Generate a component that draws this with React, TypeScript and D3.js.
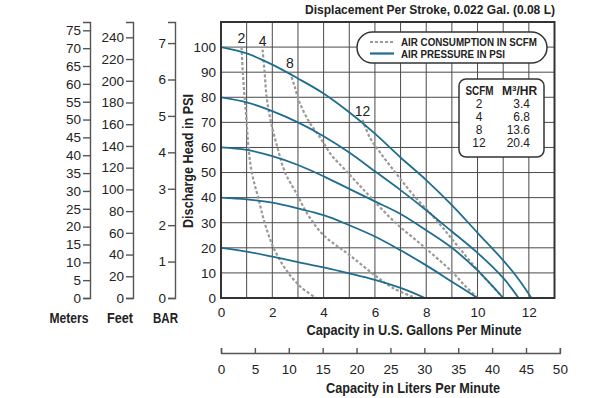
import * as d3 from "d3";
import { useEffect, useRef } from "react";

const W = 600;
const H = 398;
const plot = { left: 221, right: 554.5, top: 22, bottom: 298 };
const FONT = "'Liberation Sans', Arial, sans-serif";
const BLUE = "#1f6d8f";
const DASH_GRAY = "#9a9a9a";
const GRID = "#4a4a4a";

// unit conversions for the secondary axes
const METERS_PER_PSI = 0.703;
const FEET_PER_PSI = 2.31;
const BAR_PER_PSI = 0.0689;
const LITERS_PER_GAL = 3.785;

// tick labels
const gallonTicks = [0, 2, 4, 6, 8, 10, 12];
const gallonGrid = [1, 2, 3, 4, 5, 6, 7, 8, 9, 10, 11, 12];
const psiTicks = [0, 10, 20, 30, 40, 50, 60, 70, 80, 90, 100];
const meterTicks = [0, 5, 10, 15, 20, 25, 30, 35, 40, 45, 50, 55, 60, 65, 70, 75];
const feetTicks = [0, 20, 40, 60, 80, 100, 120, 140, 160, 180, 200, 220, 240];
const barTicks = [0, 1, 2, 3, 4, 5, 6, 7];
const literTicks = [0, 5, 10, 15, 20, 25, 30, 35, 40, 45, 50];

// air pressure curves, [gpm, psi]
const psi100: [number, number][] = [[0, 100], [1, 97.5], [2, 93], [3, 87.5], [4, 81.5], [5, 74], [6, 65.5], [7, 56], [8, 47], [9, 37], [10, 26], [11, 15], [11.6, 7.5], [12.1, 0]];
const psi80: [number, number][] = [[0, 80], [1, 78], [2, 74.5], [3, 70], [4, 64.5], [5, 58], [6, 50.5], [7, 43], [8, 35], [9, 26.5], [10, 18], [11, 8], [11.6, 0]];
const psi60: [number, number][] = [[0, 60], [1, 59], [2, 56.5], [3, 53], [4, 48.5], [5, 43.5], [6, 38.5], [7, 33.5], [8, 27], [9, 20], [10, 11], [11, 0]];
const psi40: [number, number][] = [[0, 40], [1, 39.3], [2, 38], [3, 35.7], [4, 33], [5, 29], [6, 24.5], [7, 19], [8, 13], [9, 6.5], [10, 0]];
const psi20: [number, number][] = [[0, 20], [1, 18.5], [2, 16.5], [3, 14.3], [4, 12.2], [5, 9.8], [6, 7.2], [7, 4], [7.95, 0]];

// air consumption curves, [gpm, psi]
const scfm2: [number, number][] = [[0.8, 100], [0.85, 90], [0.92, 80], [1.0, 70], [1.07, 60], [1.2, 50], [1.45, 40], [1.7, 30], [2.05, 20], [2.55, 11], [3.1, 4.5], [3.7, 0]];
const scfm4: [number, number][] = [[1.62, 99], [1.7, 90], [1.78, 80], [1.95, 70], [2.2, 60], [2.5, 50], [2.95, 41.5], [3.4, 33], [4, 25], [5, 17.2], [6, 9], [6.7, 4], [7.6, 0]];
const scfm8: [number, number][] = [[2.69, 90], [2.85, 85], [3.08, 77.5], [3.45, 70], [3.86, 64], [4.3, 57], [4.8, 51.5], [5.3, 46], [5.8, 40.5], [6.8, 30], [7.9, 20.5], [9, 10.5], [9.5, 5], [10, 0]];
const scfm12: [number, number][] = [[5.52, 71], [5.8, 64], [6.2, 58], [6.8, 50], [7.5, 41], [8.4, 31], [9.2, 21], [10.1, 10], [10.6, 4.5], [11, 0]];

const pressureCurves = [psi100, psi80, psi60, psi40, psi20];
const airCurves = [
  { label: "2", points: scfm2 },
  { label: "4", points: scfm4 },
  { label: "8", points: scfm8 },
  { label: "12", points: scfm12 },
];

// conversion table
const scfmValues = ["2", "4", "8", "12"];
const m3hrValues = ["3.4", "6.8", "13.6", "20.4"];

export default function App() {
  const svgRef = useRef(null);

  useEffect(() => {
    const svg = d3.select(svgRef.current);
    svg.selectAll("*").remove();

    const x = d3.scaleLinear().domain([0, 13]).range([plot.left, plot.right]);
    const y = d3.scaleLinear().domain([0, 110]).range([plot.bottom, plot.top]);

    svg.append("rect").attr("width", W).attr("height", H).attr("fill", "#fff");

    // title
    svg.append("text")
      .attr("x", 305).attr("y", 13.5)
      .attr("font-family", FONT).attr("font-weight", "bold").attr("font-size", 13.5)
      .attr("textLength", 250).attr("lengthAdjust", "spacingAndGlyphs")
      .attr("fill", "#222")
      .text("Displacement Per Stroke, 0.022 Gal. (0.08 L)");

    // grid
    const g = svg.append("g");
    g.selectAll(".vgrid").data(gallonGrid).join("line")
      .attr("x1", d => x(d)).attr("x2", d => x(d))
      .attr("y1", plot.top).attr("y2", plot.bottom)
      .attr("stroke", GRID).attr("stroke-width", 1);
    g.selectAll(".hgrid").data(psiTicks.slice(1)).join("line")
      .attr("x1", plot.left).attr("x2", plot.right)
      .attr("y1", d => y(d)).attr("y2", d => y(d))
      .attr("stroke", GRID).attr("stroke-width", 1);

    const line = d3.line<[number, number]>()
      .x(d => x(d[0]))
      .y(d => y(d[1]))
      .curve(d3.curveCatmullRom.alpha(0.5));

    // air consumption (dashed)
    airCurves.forEach(c => {
      g.append("path")
        .attr("d", line(c.points))
        .attr("fill", "none")
        .attr("stroke", DASH_GRAY)
        .attr("stroke-width", 2.2)
        .attr("stroke-dasharray", "3,2");
      g.append("text")
        .attr("x", x(c.points[0][0]))
        .attr("y", y(c.points[0][1]) - 4)
        .attr("text-anchor", "middle")
        .attr("font-family", FONT).attr("font-size", 14)
        .attr("fill", "#222")
        .text(c.label);
    });

    // air pressure (solid)
    pressureCurves.forEach(pts => {
      g.append("path")
        .attr("d", line(pts))
        .attr("fill", "none")
        .attr("stroke", BLUE)
        .attr("stroke-width", 1.8);
    });

    // plot frame
    svg.append("rect")
      .attr("x", plot.left).attr("y", plot.top)
      .attr("width", plot.right - plot.left).attr("height", plot.bottom - plot.top)
      .attr("fill", "none").attr("stroke", "#333").attr("stroke-width", 2);

    const styleTicks = (sel: any) => {
      sel.selectAll("text")
        .attr("font-family", FONT).attr("font-size", 13.5).attr("fill", "#222");
      sel.selectAll("path,line").attr("stroke", "#555").attr("stroke-width", 1.4);
    };

    // psi axis
    svg.append("g")
      .attr("transform", `translate(${plot.left},0)`)
      .call(d3.axisLeft(y).tickValues(psiTicks).tickSize(0).tickPadding(5))
      .call(s => s.select(".domain").remove())
      .call(styleTicks);

    // gallon axis
    svg.append("g")
      .attr("transform", `translate(0,${plot.bottom})`)
      .call(d3.axisBottom(x).tickValues(gallonTicks).tickSize(0).tickPadding(9))
      .call(s => s.select(".domain").remove())
      .call(styleTicks);

    // secondary left axes: meters, feet, bar
    const leftAxes = [
      { xPos: 90, factor: METERS_PER_PSI, ticks: meterTicks, label: "Meters", labelX: 69, labelW: 39 },
      { xPos: 133, factor: FEET_PER_PSI, ticks: feetTicks, label: "Feet", labelX: 120, labelW: 26 },
      { xPos: 175, factor: BAR_PER_PSI, ticks: barTicks, label: "BAR", labelX: 165.5, labelW: 25 },
    ];
    leftAxes.forEach(a => {
      const s = d3.scaleLinear().domain([0, 110 * a.factor]).range([plot.bottom, plot.top]);
      svg.append("g")
        .attr("transform", `translate(${a.xPos},0)`)
        .call(d3.axisLeft(s).tickValues(a.ticks).tickSize(7).tickPadding(2))
        .call(styleTicks);
      svg.append("text")
        .attr("x", a.labelX).attr("y", 323)
        .attr("text-anchor", "middle")
        .attr("font-family", FONT).attr("font-weight", "bold").attr("font-size", 14)
        .attr("textLength", a.labelW).attr("lengthAdjust", "spacingAndGlyphs")
        .attr("fill", "#222")
        .text(a.label);
    });

    // Y label
    svg.append("text")
      .attr("transform", `translate(193,161)rotate(-90)`)
      .attr("text-anchor", "middle")
      .attr("font-family", FONT).attr("font-weight", "bold").attr("font-size", 14)
      .attr("textLength", 134).attr("lengthAdjust", "spacingAndGlyphs")
      .attr("fill", "#222")
      .text("Discharge Head in PSI");

    // X label (gallons)
    svg.append("text")
      .attr("x", 414).attr("y", 335)
      .attr("text-anchor", "middle")
      .attr("font-family", FONT).attr("font-weight", "bold").attr("font-size", 14)
      .attr("textLength", 215).attr("lengthAdjust", "spacingAndGlyphs")
      .attr("fill", "#222")
      .text("Capacity in U.S. Gallons Per Minute");

    // liters axis
    const lx = d3.scaleLinear().domain([0, 50]).range([x(0), x(50 / LITERS_PER_GAL)]);
    svg.append("g")
      .attr("transform", `translate(0,353)`)
      .call(d3.axisBottom(lx).tickValues(literTicks).tickSize(-5).tickPadding(11))
      .call(styleTicks);
    svg.append("text")
      .attr("x", 413).attr("y", 393)
      .attr("text-anchor", "middle")
      .attr("font-family", FONT).attr("font-weight", "bold").attr("font-size", 14)
      .attr("textLength", 174).attr("lengthAdjust", "spacingAndGlyphs")
      .attr("fill", "#222")
      .text("Capacity in Liters Per Minute");

    // legend
    const lg = svg.append("g");
    lg.append("rect")
      .attr("x", 357).attr("y", 32).attr("width", 190).attr("height", 31).attr("rx", 15.5)
      .attr("fill", "#fff").attr("stroke", "#333").attr("stroke-width", 1.5);
    lg.append("line").attr("x1", 370).attr("x2", 394).attr("y1", 42).attr("y2", 42)
      .attr("stroke", DASH_GRAY).attr("stroke-width", 2.2).attr("stroke-dasharray", "3,2");
    lg.append("line").attr("x1", 370).attr("x2", 394).attr("y1", 53.5).attr("y2", 53.5)
      .attr("stroke", BLUE).attr("stroke-width", 2.2);
    lg.append("text").attr("x", 401).attr("y", 46)
      .attr("font-family", FONT).attr("font-weight", "bold").attr("font-size", 11.5)
      .attr("textLength", 136).attr("lengthAdjust", "spacingAndGlyphs").attr("fill", "#222")
      .text("AIR CONSUMPTION IN SCFM");
    lg.append("text").attr("x", 401).attr("y", 58)
      .attr("font-family", FONT).attr("font-weight", "bold").attr("font-size", 11.5)
      .attr("textLength", 104).attr("lengthAdjust", "spacingAndGlyphs").attr("fill", "#222")
      .text("AIR PRESSURE IN PSI");

    // conversion table
    const tb = svg.append("g");
    tb.append("rect")
      .attr("x", 459).attr("y", 79).attr("width", 85).attr("height", 78).attr("rx", 7)
      .attr("fill", "#fff").attr("stroke", "#333").attr("stroke-width", 1.5);
    tb.append("text").attr("x", 479.5).attr("y", 95).attr("text-anchor", "middle")
      .attr("font-family", FONT).attr("font-weight", "bold").attr("font-size", 12)
      .attr("textLength", 28).attr("lengthAdjust", "spacingAndGlyphs").attr("fill", "#222")
      .text("SCFM");
    const hdr = tb.append("text").attr("x", 519.5).attr("y", 95).attr("text-anchor", "middle")
      .attr("font-family", FONT).attr("font-weight", "bold").attr("font-size", 12).attr("fill", "#222");
    hdr.append("tspan").text("M");
    hdr.append("tspan").attr("font-size", 8).attr("dy", -4).text("3");
    hdr.append("tspan").attr("dy", 4).text("/HR");
    scfmValues.forEach((v, i) => {
      tb.append("text").attr("x", 479).attr("y", 108 + i * 13).attr("text-anchor", "middle")
        .attr("font-family", FONT).attr("font-size", 12).attr("fill", "#222").text(v);
      tb.append("text").attr("x", 530).attr("y", 108 + i * 13).attr("text-anchor", "end")
        .attr("font-family", FONT).attr("font-size", 12).attr("fill", "#222").text(m3hrValues[i]);
    });
  }, []);

  return (
    <svg ref={svgRef} width={W} height={H}
      style={{ position: "absolute", left: 0, top: 0, background: "#fff" }} />
  );
}
